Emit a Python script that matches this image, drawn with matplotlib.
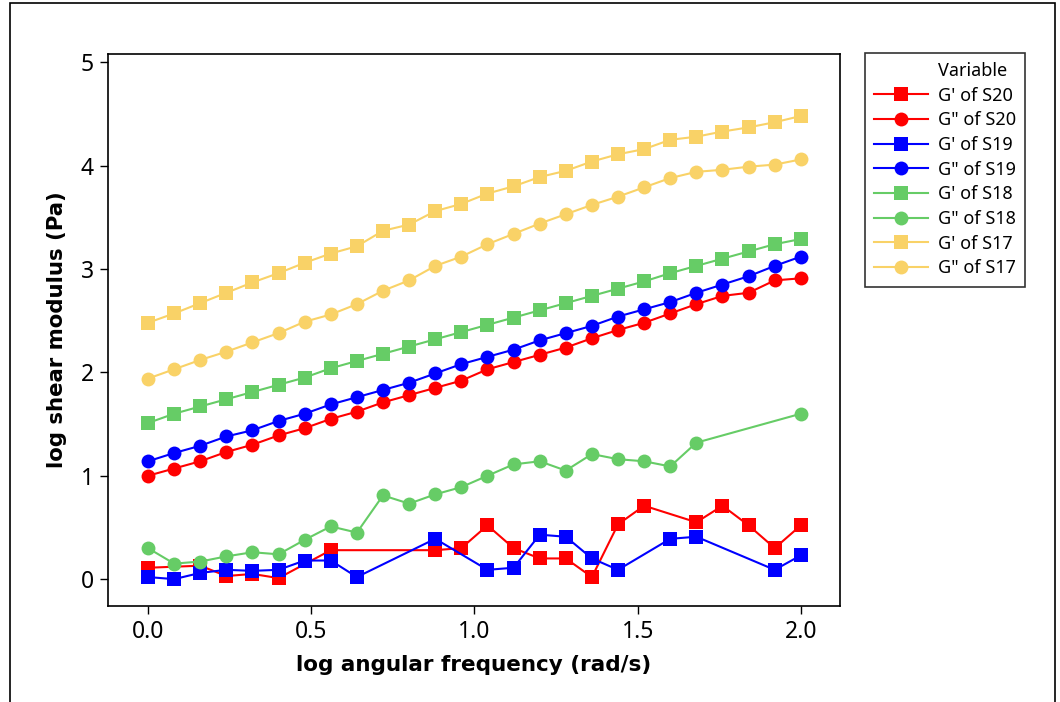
import numpy as np
import matplotlib
matplotlib.use("Agg")
import matplotlib.pyplot as plt
from matplotlib.lines import Line2D
from matplotlib.patches import Rectangle

nan = np.nan

log_freq = [0.00, 0.08, 0.16, 0.24, 0.32, 0.40, 0.48, 0.56, 0.64, 0.72, 0.80, 0.88, 0.96,
            1.04, 1.12, 1.20, 1.28, 1.36, 1.44, 1.52, 1.60, 1.68, 1.76, 1.84, 1.92, 2.00]

gp_s20 = [0.11, nan, 0.13, 0.03, 0.05, 0.01, nan, 0.28, nan, nan, nan, 0.28, 0.30,
          0.52, 0.30, 0.20, 0.20, 0.02, 0.53, 0.71, nan, 0.55, 0.71, 0.52, 0.30, 0.52]
gpp_s20 = [1.00, 1.07, 1.14, 1.23, 1.30, 1.39, 1.46, 1.55, 1.62, 1.71, 1.78, 1.85, 1.92,
           2.03, 2.10, 2.17, 2.24, 2.33, 2.41, 2.48, 2.57, 2.66, 2.74, 2.77, 2.89, 2.91]
gp_s19 = [0.02, 0.00, 0.06, 0.09, 0.08, 0.09, 0.18, 0.18, 0.02, nan, nan, 0.39, nan,
          0.09, 0.11, 0.43, 0.41, 0.20, 0.09, nan, 0.39, 0.41, nan, nan, 0.09, 0.23]
gpp_s19 = [1.14, 1.22, 1.29, 1.38, 1.44, 1.53, 1.60, 1.69, 1.76, 1.83, 1.90, 1.99, 2.08,
           2.15, 2.22, 2.31, 2.38, 2.45, 2.54, 2.61, 2.68, 2.77, 2.85, 2.93, 3.03, 3.12]
gp_s18 = [1.51, 1.60, 1.67, 1.74, 1.81, 1.88, 1.95, 2.04, 2.11, 2.18, 2.25, 2.32, 2.39,
          2.46, 2.53, 2.60, 2.67, 2.74, 2.81, 2.88, 2.96, 3.03, 3.10, 3.17, 3.24, 3.29]
gpp_s18 = [0.30, 0.15, 0.17, 0.22, 0.26, 0.24, 0.38, 0.51, 0.45, 0.81, 0.73, 0.82, 0.89,
           1.00, 1.11, 1.14, 1.05, 1.21, 1.16, 1.14, 1.09, 1.32, nan, nan, nan, 1.60]
gp_s17 = [2.48, 2.57, 2.67, 2.77, 2.87, 2.96, 3.06, 3.15, 3.22, 3.37, 3.43, 3.56, 3.63,
          3.73, 3.80, 3.89, 3.95, 4.04, 4.11, 4.16, 4.25, 4.28, 4.33, 4.37, 4.42, 4.48]
gpp_s17 = [1.94, 2.03, 2.12, 2.20, 2.29, 2.38, 2.49, 2.56, 2.66, 2.79, 2.89, 3.03, 3.12,
           3.24, 3.34, 3.44, 3.53, 3.62, 3.70, 3.79, 3.88, 3.94, 3.96, 3.99, 4.01, 4.06]

labels = ["G' of S20", 'G" of S20', "G' of S19", 'G" of S19',
          "G' of S18", 'G" of S18', "G' of S17", 'G" of S17']
series = [gp_s20, gpp_s20, gp_s19, gpp_s19, gp_s18, gpp_s18, gp_s17, gpp_s17]
colors = ['#FF0000', '#FF0000', '#0000FF', '#0000FF',
          '#66CC66', '#66CC66', '#F9D267', '#F9D267']
markers = ['s', 'o', 's', 'o', 's', 'o', 's', 'o']

xticks = [0.0, 0.5, 1.0, 1.5, 2.0]
xtick_labels = ['0.0', '0.5', '1.0', '1.5', '2.0']
yticks = [0, 1, 2, 3, 4, 5]

plt.rcParams['font.family'] = ['Noto Sans', 'DejaVu Sans']

fig = plt.figure(figsize=(10.6, 7.02), dpi=100)
ax = fig.add_axes([108/1060, 1 - 606/702, (840-108)/1060, (606-54)/702])

x = np.array(log_freq)
handles = []
for y, c, m, lab in zip(series, colors, markers, labels):
    y = np.array(y, dtype=float)
    ok = ~np.isnan(y)
    h, = ax.plot(x[ok], y[ok], color=c, marker=m, markersize=10, linewidth=1.5,
                 markeredgewidth=0, label=lab)
    handles.append(h)

ax.set_xlim(-0.1225, 2.12)
ax.set_ylim(-0.26, 5.08)
ax.set_xticks(xticks)
ax.set_xticklabels(xtick_labels)
ax.set_yticks(yticks)
ax.tick_params(direction='out', length=6, width=1, labelsize=16.5, pad=4, color='black')
for s in ax.spines.values():
    s.set_linewidth(1.2)

ax.set_xlabel('log angular frequency (rad/s)', fontsize=15.5, fontweight='bold',
              family='DejaVu Sans', labelpad=8)
ax.set_ylabel('log shear modulus (Pa)', fontsize=15.3, fontweight='bold',
              family='DejaVu Sans', labelpad=10)

title_handle = Line2D([], [], linestyle='none', marker=None)
leg = fig.legend([title_handle] + handles, ['Variable'] + labels,
                 loc='upper left', bbox_to_anchor=(865/1060, 1 - 53/702),
                 frameon=True, fancybox=False, edgecolor='black', fontsize=13,
                 handlelength=3.0, handletextpad=0.55, labelspacing=0.37,
                 borderpad=0.5, borderaxespad=0, markerscale=1.0)
leg.get_frame().set_linewidth(1.2)

fig.patches.append(Rectangle((10/1060, -0.05), (1055-10)/1060, 1.05 - 3/702,
                             transform=fig.transFigure, fill=False,
                             edgecolor='black', linewidth=1.2))

fig.savefig('out.png', dpi=100)
